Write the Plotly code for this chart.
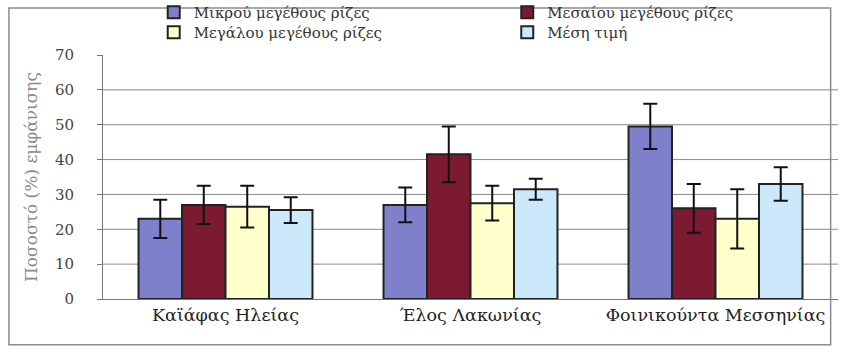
import plotly.graph_objects as go

# Root-size frequencies per site (percent) with standard errors
sites = ["Καϊάφας Ηλείας", "Έλος Λακωνίας", "Φοινικούντα Μεσσηνίας"]
series_names = ["Μικρού μεγέθους ρίζες", "Μεσαίου μεγέθους ρίζες",
                "Μεγάλου μεγέθους ρίζες", "Μέση τιμή"]
small_roots = [23.0, 27.0, 49.5]
medium_roots = [27.0, 41.5, 26.0]
large_roots = [26.5, 27.5, 23.0]
mean_value = [25.5, 31.5, 33.0]
small_err = [5.5, 5.0, 6.5]
medium_err = [5.5, 8.0, 7.0]
large_err = [6.0, 5.0, 8.5]
mean_err = [3.7, 3.0, 4.8]
y_ticks = [0, 10, 20, 30, 40, 50, 60, 70]

values = [small_roots, medium_roots, large_roots, mean_value]
errors = [small_err, medium_err, large_err, mean_err]
colors = ["#7f80cc", "#7c1a32", "#ffffcc", "#cce8fb"]
legend_ids = ["legend", "legend2", "legend3", "legend4"]

FONT = "DejaVu Serif"

fig = go.Figure()
for name, vals, errs, col, lg in zip(series_names, values, errors, colors, legend_ids):
    fig.add_trace(go.Bar(
        name=name, x=sites, y=vals, legend=lg,
        marker=dict(color=col, line=dict(color="#222222", width=2)),
        error_y=dict(type="data", array=errs, visible=True,
                     color="#111111", thickness=2, width=7),
    ))

# horizontal grid lines at the inner tick values
for v in y_ticks[1:-1]:
    fig.add_shape(type="line", xref="paper", yref="y", x0=0, x1=1, y0=v, y1=v,
                  line=dict(color="#8a8a8a", width=1), layer="below")

# outer chart frame
fig.add_shape(type="rect", xref="paper", yref="paper",
              x0=-0.128, x1=0.99, y0=-0.188, y1=1.193,
              line=dict(color="#8c8c8c", width=1.5))

legend_font = dict(family=FONT, size=15, color="#333333")


def legend_box(x, y):
    return dict(x=x, y=y, xanchor="left", yanchor="middle", font=legend_font,
                itemwidth=30, bgcolor="rgba(0,0,0,0)")


fig.update_layout(
    width=850, height=358,
    margin=dict(l=103, r=12, t=55, b=59, autoexpand=False),
    paper_bgcolor="white", plot_bgcolor="white",
    barmode="group", bargap=0.29, bargroupgap=0,
    font=dict(family=FONT, color="#333333"),
    showlegend=True,
    legend=legend_box(0.069, 1.174),
    legend2=legend_box(0.550, 1.174),
    legend3=legend_box(0.069, 1.092),
    legend4=legend_box(0.550, 1.092),
    xaxis=dict(showgrid=False, showline=True, linecolor="#777777", linewidth=1,
               ticks="", tickfont=dict(family=FONT, size=17.5, color="#222222")),
    yaxis=dict(range=[0, 70], tickvals=y_ticks, showgrid=False, zeroline=False,
               showline=True, linecolor="#777777", linewidth=1,
               ticks="outside", ticklen=5, tickcolor="#777777",
               ticklabelstandoff=20,
               tickfont=dict(family=FONT, size=15, color="#444444"),
               title=dict(text="Ποσοστό (%) εμφάνισης", standoff=12,
                          font=dict(family=FONT, size=17, color="#8a8a8a"))),
)

fig.write_html("out.html")
